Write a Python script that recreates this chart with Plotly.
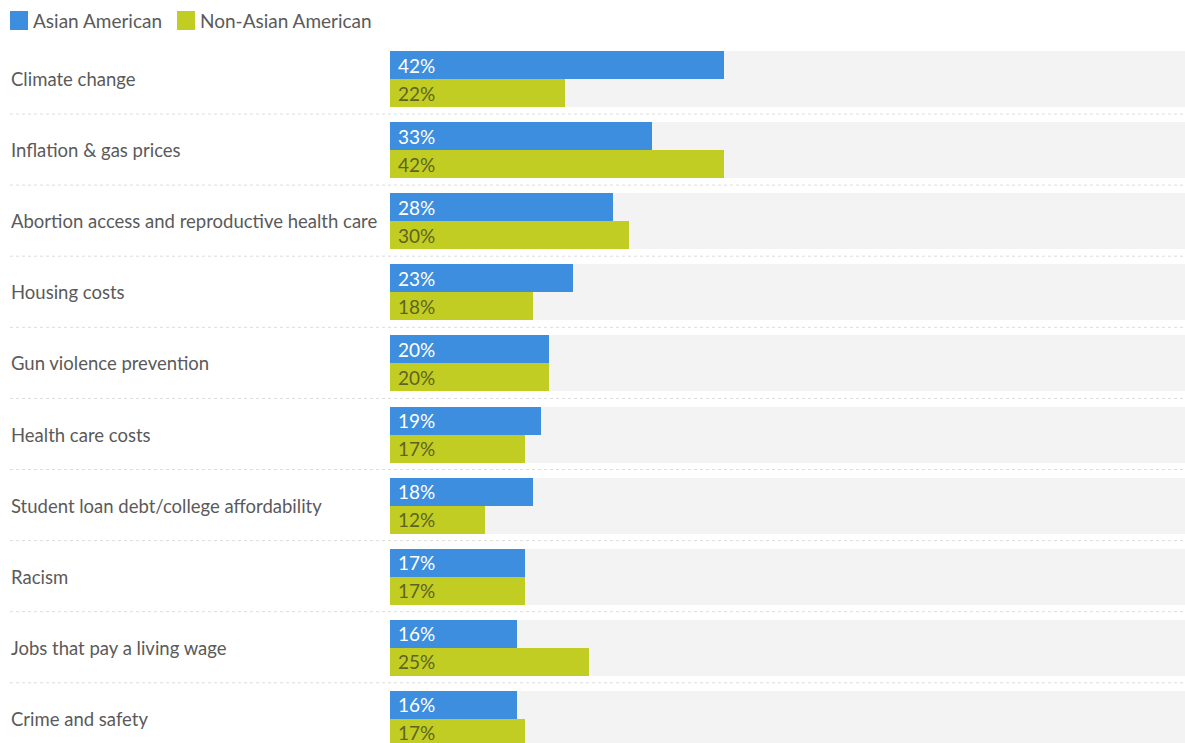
import plotly.graph_objects as go

# Survey data: share naming each issue as a top concern
issues = [
    "Climate change",
    "Inflation & gas prices",
    "Abortion access and reproductive health care",
    "Housing costs",
    "Gun violence prevention",
    "Health care costs",
    "Student loan debt/college affordability",
    "Racism",
    "Jobs that pay a living wage",
    "Crime and safety",
]
asian_american = [42, 33, 28, 23, 20, 19, 18, 17, 16, 16]
non_asian_american = [22, 42, 30, 18, 20, 17, 12, 17, 25, 17]
series_names = ["Asian American", "Non-Asian American"]

BLUE = "#3d8ede"
GREEN = "#c2cd23"
TRACK = "#f3f3f3"
LABEL = "#5a5a5a"
FONT = "Lato, 'Open Sans', sans-serif"
FS_CAT = 18.5
FS_VAL = 19
FS_LEG = 19

W, H = 1185, 743
LEFT = 390                      # left edge of the bar area in px
PLOT_W = W - LEFT
PITCH = 71.1                    # px per category row
FIRST_CENTER = 79               # px of first row's centre
HALF = 28 / PITCH               # one bar's thickness in row units

rows = list(range(len(issues)))

fig = go.Figure()

# full-width grey track behind each pair of bars
fig.add_trace(go.Bar(
    y=rows, x=[100] * len(rows), orientation="h",
    width=2 * HALF, offset=-HALF,
    marker=dict(color=TRACK, line=dict(width=0)),
    hoverinfo="skip", showlegend=False,
))
fig.add_trace(go.Bar(
    y=rows, x=asian_american, orientation="h", name=series_names[0],
    width=HALF, offset=-HALF,
    marker=dict(color=BLUE, line=dict(width=0)),
    showlegend=False,
))
fig.add_trace(go.Bar(
    y=rows, x=non_asian_american, orientation="h", name=series_names[1],
    width=HALF, offset=0,
    marker=dict(color=GREEN, line=dict(width=0)),
    showlegend=False,
))

annotations = []
shapes = []
x_label = -(LEFT - 9) / PLOT_W
for i, name in enumerate(issues):
    annotations.append(dict(
        xref="paper", yref="y", x=x_label, y=i, xanchor="left", yanchor="middle",
        text=name, showarrow=False, font=dict(family=FONT, size=FS_CAT, color=LABEL),
    ))
    annotations.append(dict(
        xref="x", yref="y", x=0, y=i - HALF / 2, xanchor="left", yanchor="middle",
        xshift=6, text=f"{asian_american[i]}%", showarrow=False,
        font=dict(family=FONT, size=FS_VAL, color="#ffffff"),
    ))
    annotations.append(dict(
        xref="x", yref="y", x=0, y=i + HALF / 2, xanchor="left", yanchor="middle",
        xshift=6, text=f"{non_asian_american[i]}%", showarrow=False,
        font=dict(family=FONT, size=FS_VAL, color="#5e6420"),
    ))
    # dotted divider under each row
    sep = i + (114 - FIRST_CENTER) / PITCH
    shapes.append(dict(
        type="line", xref="paper", yref="y", x0=-(LEFT - 10) / PLOT_W, x1=1,
        y0=sep, y1=sep, line=dict(color="#dcdcdc", width=1, dash="dot"),
    ))

# legend swatches and labels
for color, label, x0 in [(BLUE, series_names[0], 10), (GREEN, series_names[1], 177)]:
    shapes.append(dict(
        type="rect", xref="paper", yref="paper",
        x0=(x0 - LEFT) / PLOT_W, x1=(x0 + 18 - LEFT) / PLOT_W,
        y0=1 - 30 / H, y1=1 - 11 / H,
        fillcolor=color, line=dict(width=0),
    ))
    annotations.append(dict(
        xref="paper", yref="paper", x=(x0 + 21 - LEFT) / PLOT_W, y=1 - 20.5 / H,
        xanchor="left", yanchor="middle", text=label, showarrow=False,
        font=dict(family=FONT, size=FS_LEG, color=LABEL),
    ))

fig.update_layout(
    width=W, height=H,
    margin=dict(l=LEFT, r=0, t=0, b=0),
    paper_bgcolor="white", plot_bgcolor="white",
    barmode="overlay", bargap=0,
    xaxis=dict(range=[0, 100], visible=False, fixedrange=True),
    yaxis=dict(
        range=[(H - FIRST_CENTER) / PITCH, -FIRST_CENTER / PITCH],
        visible=False, fixedrange=True,
    ),
    annotations=annotations,
    shapes=shapes,
    font=dict(family=FONT),
    showlegend=False,
)

fig.write_html("out.html", config=dict(displayModeBar=False))
